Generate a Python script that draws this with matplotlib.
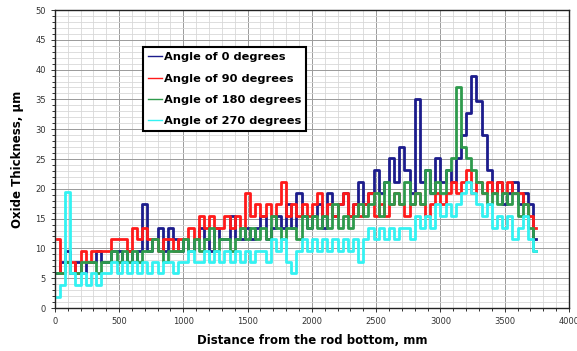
import matplotlib.pyplot as plt
from matplotlib.ticker import MultipleLocator

# measurement positions along the rod, mm
dist = list(range(20, 3780, 40))

angle_0 = [5.8, 7.7, 9.6, 5.8, 7.7, 5.8, 7.7, 7.7, 9.6, 7.7,
           7.7, 9.6, 9.6, 7.7, 9.6, 7.7, 9.6, 17.4, 9.6, 11.6,
           13.5, 9.6, 13.5, 11.6, 9.6, 11.6, 9.6, 11.6, 13.5, 11.6,
           9.6, 13.5, 11.6, 11.6, 15.4, 11.6, 11.6, 13.5, 11.6, 13.5,
           15.4, 11.6, 13.5, 15.4, 13.5, 17.4, 13.5, 19.3, 15.4, 13.5,
           15.4, 17.4, 13.5, 19.3, 15.4, 17.4, 19.3, 15.4, 17.4, 21.2,
           17.4, 19.3, 23.2, 19.3, 21.2, 25.1, 21.2, 27.0, 23.2, 19.3,
           35.0, 21.2, 23.2, 19.3, 25.1, 21.2, 23.2, 21.2, 25.1, 29.0,
           32.8, 39.0, 34.7, 29.0, 23.2, 19.3, 21.2, 17.4, 19.3, 21.2,
           17.4, 19.3, 17.4, 11.6]

angle_90 = [11.6, 5.8, 7.7, 7.7, 5.8, 9.6, 7.7, 9.6, 9.6, 9.6,
            9.6, 11.6, 11.6, 11.6, 9.6, 13.5, 11.6, 13.5, 11.6, 11.6,
            9.6, 11.6, 11.6, 9.6, 11.6, 11.6, 13.5, 11.6, 15.4, 13.5,
            15.4, 13.5, 13.5, 15.4, 13.5, 15.4, 13.5, 19.3, 15.4, 17.4,
            15.4, 17.4, 15.4, 17.4, 21.2, 15.4, 17.4, 15.4, 17.4, 15.4,
            17.4, 19.3, 15.4, 17.4, 15.4, 17.4, 19.3, 15.4, 17.4, 15.4,
            17.4, 19.3, 15.4, 17.4, 15.4, 17.4, 19.3, 17.4, 15.4, 17.4,
            19.3, 17.4, 15.4, 17.4, 19.3, 17.4, 19.3, 21.2, 19.3, 21.2,
            23.2, 19.3, 21.2, 19.3, 21.2, 19.3, 21.2, 19.3, 21.2, 19.3,
            19.3, 17.4, 15.4, 13.5]

angle_180 = [5.8, 5.8, 7.7, 5.8, 5.8, 7.7, 7.7, 7.7, 5.8, 7.7,
             7.7, 9.6, 7.7, 9.6, 7.7, 9.6, 7.7, 9.6, 9.6, 11.6,
             9.6, 7.7, 9.6, 9.6, 9.6, 11.6, 9.6, 11.6, 9.6, 11.6,
             13.5, 9.6, 11.6, 11.6, 9.6, 11.6, 13.5, 11.6, 13.5, 11.6,
             13.5, 11.6, 15.4, 13.5, 11.6, 13.5, 13.5, 11.6, 15.4, 13.5,
             15.4, 13.5, 15.4, 13.5, 17.4, 13.5, 15.4, 13.5, 15.4, 17.4,
             15.4, 17.4, 19.3, 15.4, 21.2, 17.4, 19.3, 17.4, 21.2, 17.4,
             19.3, 17.4, 23.2, 19.3, 21.2, 19.3, 23.2, 25.1, 37.0, 27.0,
             25.1, 23.2, 21.2, 19.3, 17.4, 19.3, 17.4, 19.3, 17.4, 19.3,
             15.4, 17.4, 13.5, 9.6]

angle_270 = [1.9, 3.9, 19.5, 5.8, 3.9, 5.8, 3.9, 5.8, 3.9, 5.8,
             5.8, 7.7, 5.8, 7.7, 5.8, 7.7, 5.8, 7.7, 5.8, 7.7,
             5.8, 7.7, 7.7, 5.8, 7.7, 7.7, 9.6, 7.7, 7.7, 9.6,
             7.7, 9.6, 7.7, 9.6, 7.7, 9.6, 7.7, 9.6, 7.7, 9.6,
             9.6, 7.7, 11.6, 9.6, 11.6, 7.7, 5.8, 9.6, 11.6, 9.6,
             11.6, 9.6, 11.6, 9.6, 11.6, 9.6, 11.6, 9.6, 11.6, 7.7,
             11.6, 13.5, 11.6, 13.5, 11.6, 13.5, 11.6, 13.5, 13.5, 11.6,
             15.4, 13.5, 15.4, 13.5, 17.4, 15.4, 17.4, 15.4, 17.4, 19.3,
             21.2, 19.3, 17.4, 15.4, 17.4, 13.5, 15.4, 13.5, 15.4, 11.6,
             13.5, 15.4, 11.6, 9.6]

labels = ['Angle of 0 degrees', 'Angle of 90 degrees',
          'Angle of 180 degrees', 'Angle of 270 degrees']
colors = ['#1c1c8c', '#ff1a1a', '#2e9a4c', '#33f2f2']

fig = plt.figure(figsize=(5.77, 3.51), dpi=100)
ax = fig.add_axes([0.095, 0.1225, 0.891, 0.849])

for ys, lab, c in zip([angle_0, angle_90, angle_180, angle_270], labels, colors):
    ax.plot(dist, ys, color=c, lw=2.0, drawstyle='steps-mid', label=lab)

ax.set_xlim(0, 4000)
ax.set_ylim(0, 50)
ax.xaxis.set_major_locator(MultipleLocator(500))
ax.xaxis.set_minor_locator(MultipleLocator(100))
ax.yaxis.set_major_locator(MultipleLocator(5))
ax.yaxis.set_minor_locator(MultipleLocator(1))
ax.grid(which='major', color='#9a9a9a', lw=0.7)
ax.grid(which='minor', color='#d8d8d8', lw=0.6)
ax.set_axisbelow(True)
ax.tick_params(which='both', direction='out', labelsize=6, length=3, width=0.7, colors='#333333')
ax.tick_params(which='minor', length=2)
for s in ax.spines.values():
    s.set_color('#222222')
    s.set_linewidth(1.0)

ax.set_xlabel('Distance from the rod bottom, mm', fontsize=8.5, fontweight='bold', labelpad=6)
ax.set_ylabel('Oxide Thickness, \u03bcm', fontsize=8.5, fontweight='bold', labelpad=8)

leg = ax.legend(loc='upper left', bbox_to_anchor=(0.16, 0.895),
                prop={'weight': 'bold', 'size': 8.2}, handlelength=1.2, handletextpad=0.2,
                borderpad=0.45, labelspacing=1.0, fancybox=False, framealpha=1)
leg.get_frame().set_edgecolor('black')
leg.get_frame().set_linewidth(1.5)
for l in leg.get_lines():
    l.set_linewidth(1.0)

plt.savefig('out.png', dpi=100)
